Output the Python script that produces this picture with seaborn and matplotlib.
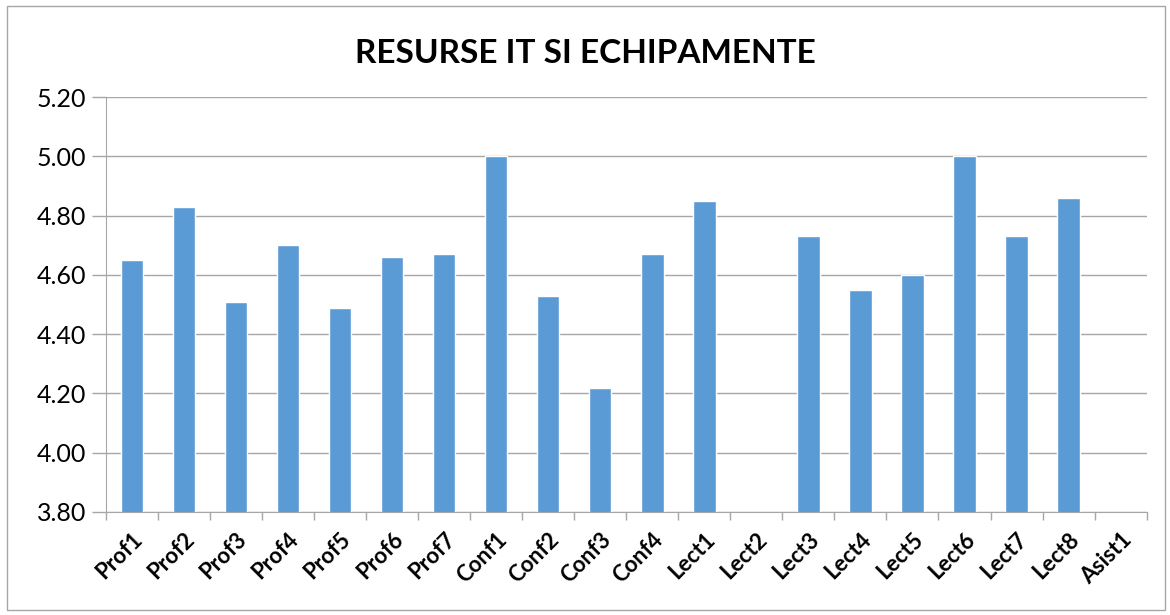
import numpy as np
import pandas as pd
import matplotlib
matplotlib.use('Agg')
import matplotlib.pyplot as plt
import seaborn as sns
from matplotlib.ticker import FixedLocator
from matplotlib.patches import Rectangle

# date
categorii = ['Prof1', 'Prof2', 'Prof3', 'Prof4', 'Prof5', 'Prof6', 'Prof7',
             'Conf1', 'Conf2', 'Conf3', 'Conf4',
             'Lect1', 'Lect2', 'Lect3', 'Lect4', 'Lect5', 'Lect6', 'Lect7', 'Lect8',
             'Asist1']
scoruri = [4.65, 4.83, 4.51, 4.70, 4.49, 4.66, 4.67,
           5.00, 4.53, 4.22, 4.67,
           4.85, np.nan, 4.73, 4.55, 4.60, 5.00, 4.73, 4.86,
           np.nan]
y_ticks = [3.80, 4.00, 4.20, 4.40, 4.60, 4.80, 5.00, 5.20]

sns.set_style('white')
plt.rcParams['font.family'] = ['Lato', 'DejaVu Sans']
plt.rcParams['text.color'] = 'black'
plt.rcParams['xtick.color'] = 'black'
plt.rcParams['ytick.color'] = 'black'

df = pd.DataFrame({'cat': categorii, 'val': scoruri})

fig = plt.figure(figsize=(11.7, 6.15), dpi=100)
ax = fig.add_axes([0.0906, 0.1675, 0.8894, 0.6745])

sns.barplot(data=df, x='cat', y='val', order=categorii, color='#5B9BD5',
            saturation=1, width=0.43, ax=ax, errorbar=None)

ax.set_ylim(3.80, 5.20)
ax.set_xlim(-0.5, len(categorii) - 0.5)
ax.set_yticks(y_ticks)
ax.set_yticklabels([f'{v:.2f}' for v in y_ticks], fontsize=18)
ax.yaxis.grid(True, color='#A6A6A6', linewidth=1)
ax.set_axisbelow(True)

# tick-uri intre categorii, ca in Excel
ax.xaxis.set_minor_locator(FixedLocator(np.arange(-0.5, len(categorii), 1)))
ax.tick_params(axis='x', which='major', length=0, pad=12)
ax.tick_params(axis='x', which='minor', length=6, color='#A6A6A6', width=1, bottom=True)
ax.tick_params(axis='y', length=10, color='#A6A6A6', labelcolor='black', width=1,
               left=True, pad=4)
plt.setp(ax.get_xticklabels(), rotation=45, ha='right', rotation_mode='anchor',
         fontsize=16, fontweight='bold', color='black')

for s in ['top', 'right']:
    ax.spines[s].set_visible(False)
ax.spines['left'].set_color('#A6A6A6')
ax.spines['bottom'].set_color('#A6A6A6')

ax.set_xlabel('')
ax.set_ylabel('')
fig.text(0.5, 0.913, 'RESURSE IT SI ECHIPAMENTE', ha='center', va='center',
         fontsize=24, fontweight='bold', color='black')

# chenarul graficului
fig.patches.append(Rectangle((0.006, 0.008), 0.99, 0.982, transform=fig.transFigure,
                             fill=False, edgecolor='#A6A6A6', linewidth=1))

plt.savefig('out.png', dpi=100)
